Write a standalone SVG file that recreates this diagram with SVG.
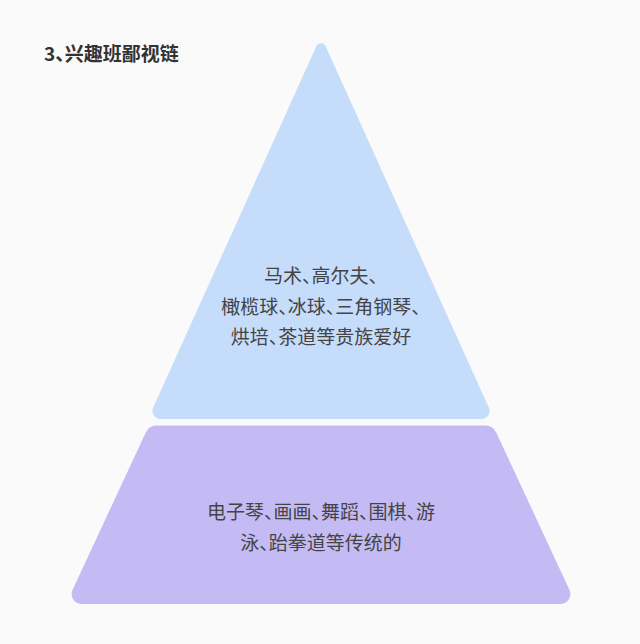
<svg xmlns="http://www.w3.org/2000/svg" width="640" height="644" viewBox="0 0 640 644">
  <style>
    text { font-family: "Noto Sans CJK SC", "Noto Sans", sans-serif; font-feature-settings: "halt"; }
    .title { font-size: 19px; font-weight: bold; fill: #333333; }
    .label { font-size: 19px; fill: #444444; text-anchor: middle; }
    .tier1 { fill: #c5ddfb; }
    .tier2 { fill: #c4bbf5; }
  </style>
  <rect x="0" y="0" width="640" height="644" fill="#fafafa"/>
  <text id="title" class="title" x="44" y="60.5">3、兴趣班鄙视链</text>
  <g id="tier-top">
    <path class="tier1" d="M316.44,46.09 A5,5 0 0 1 325.56,46.09 L488.90,407.71 A8,8 0 0 1 481.61,419 L160.39,419 A8,8 0 0 1 153.10,407.71 Z"/>
    <text class="label" x="321" y="283">马术、高尔夫、</text>
    <text class="label" x="321" y="313.5">橄榄球、冰球、三角钢琴、</text>
    <text class="label" x="321" y="344">烘培、茶道等贵族爱好</text>
  </g>
  <g id="tier-bottom">
    <path class="tier2" d="M156.66,425.5 L485.34,425.5 A12,12 0 0 1 496.22,432.45 L569.41,589.79 A10,10 0 0 1 560.34,604 L81.66,604 A10,10 0 0 1 72.59,589.79 L145.78,432.45 A12,12 0 0 1 156.66,425.5 Z"/>
    <text class="label" x="321" y="519">电子琴、画画、舞蹈、围棋、游</text>
    <text class="label" x="321" y="550">泳、跆拳道等传统的</text>
  </g>
</svg>
